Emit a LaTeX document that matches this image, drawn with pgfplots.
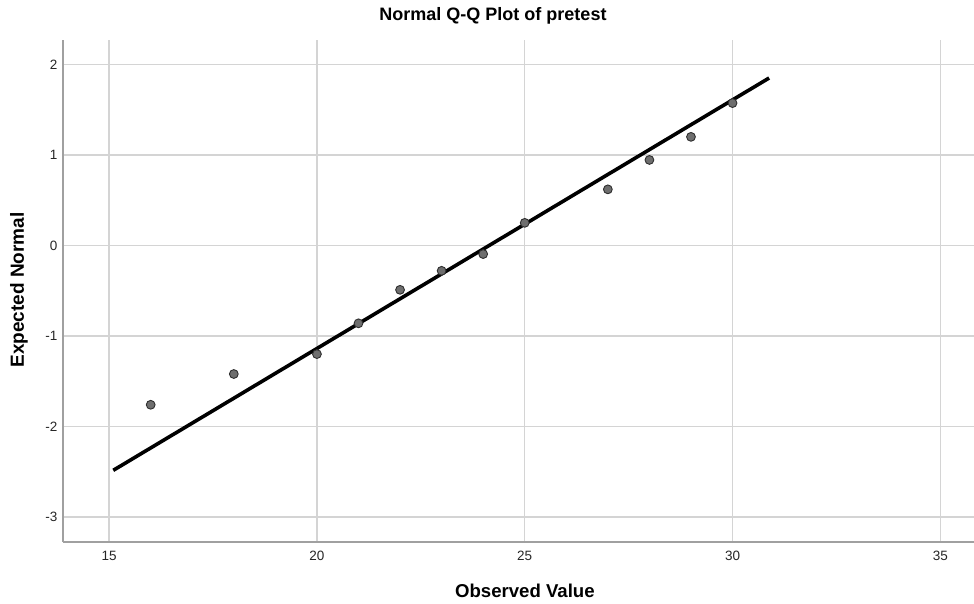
\documentclass[border=0pt]{standalone}
\usepackage{fontspec}
\setmainfont{Liberation Sans}
\usepackage{pgfplots}
\pgfplotsset{compat=1.18}
\definecolor{gridc}{HTML}{D4D4D4}
\definecolor{axc}{HTML}{A0A0A0}
\definecolor{ptfill}{HTML}{6E6E6E}
\definecolor{ptdraw}{HTML}{2E2E2E}
\begin{document}
\begin{tikzpicture}
\begin{axis}[
  at={(0,0)}, anchor=south west,
  scale only axis,
  width=911pt, height=502pt,
  xmin=13.89, xmax=35.81,
  ymin=-3.276, ymax=2.27,
  xtick={15,20,25,30,35},
  ytick={-3,-2,-1,0,1,2},
  axis x line*=bottom, axis y line*=left,
  axis line style={axc, line width=1.6pt, -},
  major tick length=0pt,
  grid=major,
  major grid style={gridc, line width=1.5pt},
  /pgf/number format/assume math mode=true,
  tick label style={font=\fontsize{13.5}{15}\selectfont, black!85},
  xticklabel style={yshift=-6pt},
  yticklabel style={xshift=-2pt},
  title={\textbf{Normal Q-Q Plot of pretest}},
  title style={at={(axis description cs:0.472,1.036)}, anchor=center, font=\fontsize{18}{22}\selectfont},
  xlabel={\textbf{Observed Value}},
  ylabel={\textbf{Expected Normal}},
  xlabel style={at={(axis description cs:0.507,-0.0976)}, anchor=center, font=\fontsize{18.6}{22}\selectfont},
  ylabel style={at={(axis description cs:-0.0483,0.502)}, anchor=center, rotate=0, font=\fontsize{19}{22}\selectfont},
  clip=false,
]
\addplot[only marks, mark=*, mark size=4.4pt, mark options={fill=ptfill, draw=ptdraw, line width=0.9pt}] coordinates {
(16,-1.76) (18,-1.42) (20,-1.20) (21,-0.86) (22,-0.49) (23,-0.28)
(24,-0.095) (25,0.25) (27,0.62) (28,0.945) (29,1.20) (30,1.573)
};
\addplot[black, line width=3.6pt, no marks] coordinates {(15.1,-2.484) (30.88,1.85)};
\end{axis}
\pgfresetboundingbox
\useasboundingbox (-63pt,-61pt) rectangle (911pt,542pt);
\end{tikzpicture}
\end{document}
